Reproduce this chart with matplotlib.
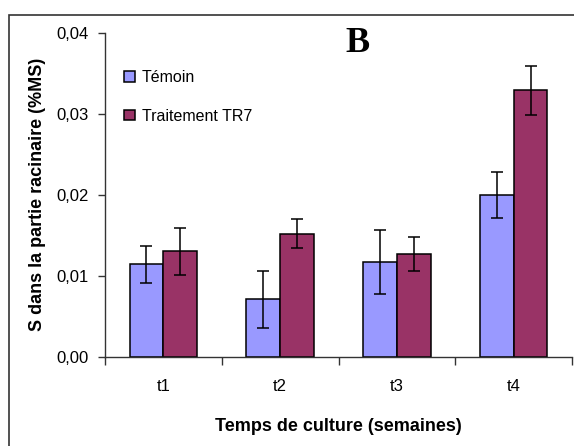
import matplotlib.pyplot as plt
import matplotlib.patches as patches
import numpy as np

plt.rcParams['font.family'] = ['Liberation Sans', 'DejaVu Sans']

categories = ['t1', 't2', 't3', 't4']
temoin = [0.0114, 0.0071, 0.0117, 0.0200]
temoin_err = [0.0023, 0.0035, 0.0040, 0.0028]
tr7 = [0.0130, 0.0152, 0.0127, 0.0329]
tr7_err = [0.0029, 0.0018, 0.0021, 0.0030]
series_names = ['Témoin', 'Traitement TR7']
yticks = [0.0, 0.01, 0.02, 0.03, 0.04]
ytick_labels = ['0,00', '0,01', '0,02', '0,03', '0,04']

fig = plt.figure(figsize=(5.74, 4.46), dpi=100)
ax = fig.add_axes([105/574, 1-356.7/446, (572-105)/574, (356.7-33)/446])

# outer frame (cut at right and bottom like the original)
frame = patches.Rectangle((9/574, -0.1), 1.0, (446-15)/446 + 0.1,
                          transform=fig.transFigure, fill=False,
                          edgecolor='#333333', lw=1.2, clip_on=False)
fig.patches.append(frame)

x = np.arange(len(categories))
w = 0.29
err_kw = dict(ecolor='black', elinewidth=1.1, capsize=4.5, capthick=1.1)
ax.bar(x - w/2, temoin, w, yerr=temoin_err, color='#9999FF',
       edgecolor='black', lw=1.1, label=series_names[0], error_kw=err_kw)
ax.bar(x + w/2, tr7, w, yerr=tr7_err, color='#993366',
       edgecolor='black', lw=1.1, label=series_names[1], error_kw=err_kw)

ax.set_xlim(-0.5, len(categories) - 0.5)
ax.set_ylim(0, 0.04)
ax.set_yticks(yticks)
ax.set_yticklabels(ytick_labels)
ax.set_xticks(x)
ax.set_xticklabels(categories)
ax.tick_params(axis='x', length=0, pad=16, labelsize=12)
ax.tick_params(axis='y', length=5, width=1, color='#333333', labelsize=12, pad=7)
ax.set_xticks(np.arange(len(categories) + 1) - 0.5, minor=True)
ax.tick_params(axis='x', which='minor', length=6, width=1, color='#333333')

for s in ['top', 'right']:
    ax.spines[s].set_visible(False)
for s in ['left', 'bottom']:
    ax.spines[s].set_color('#333333')
    ax.spines[s].set_linewidth(1)

ax.set_ylabel('S dans la partie racinaire (%MS)', fontsize=13, fontweight='bold', labelpad=7)
ax.set_xlabel('Temps de culture (semaines)', fontsize=13, fontweight='bold', labelpad=17)

ax.legend(loc='upper left', bbox_to_anchor=(110/574, 1-56/446),
          bbox_transform=fig.transFigure, frameon=False, fontsize=11.5,
          handlelength=0.65, handleheight=0.65, handletextpad=0.45,
          labelspacing=1.45)

fig.text(358/574, 1-43/446, 'B', fontsize=26, fontweight='bold',
         family='Liberation Serif', ha='center', va='center')

fig.savefig('out.png', dpi=100)
